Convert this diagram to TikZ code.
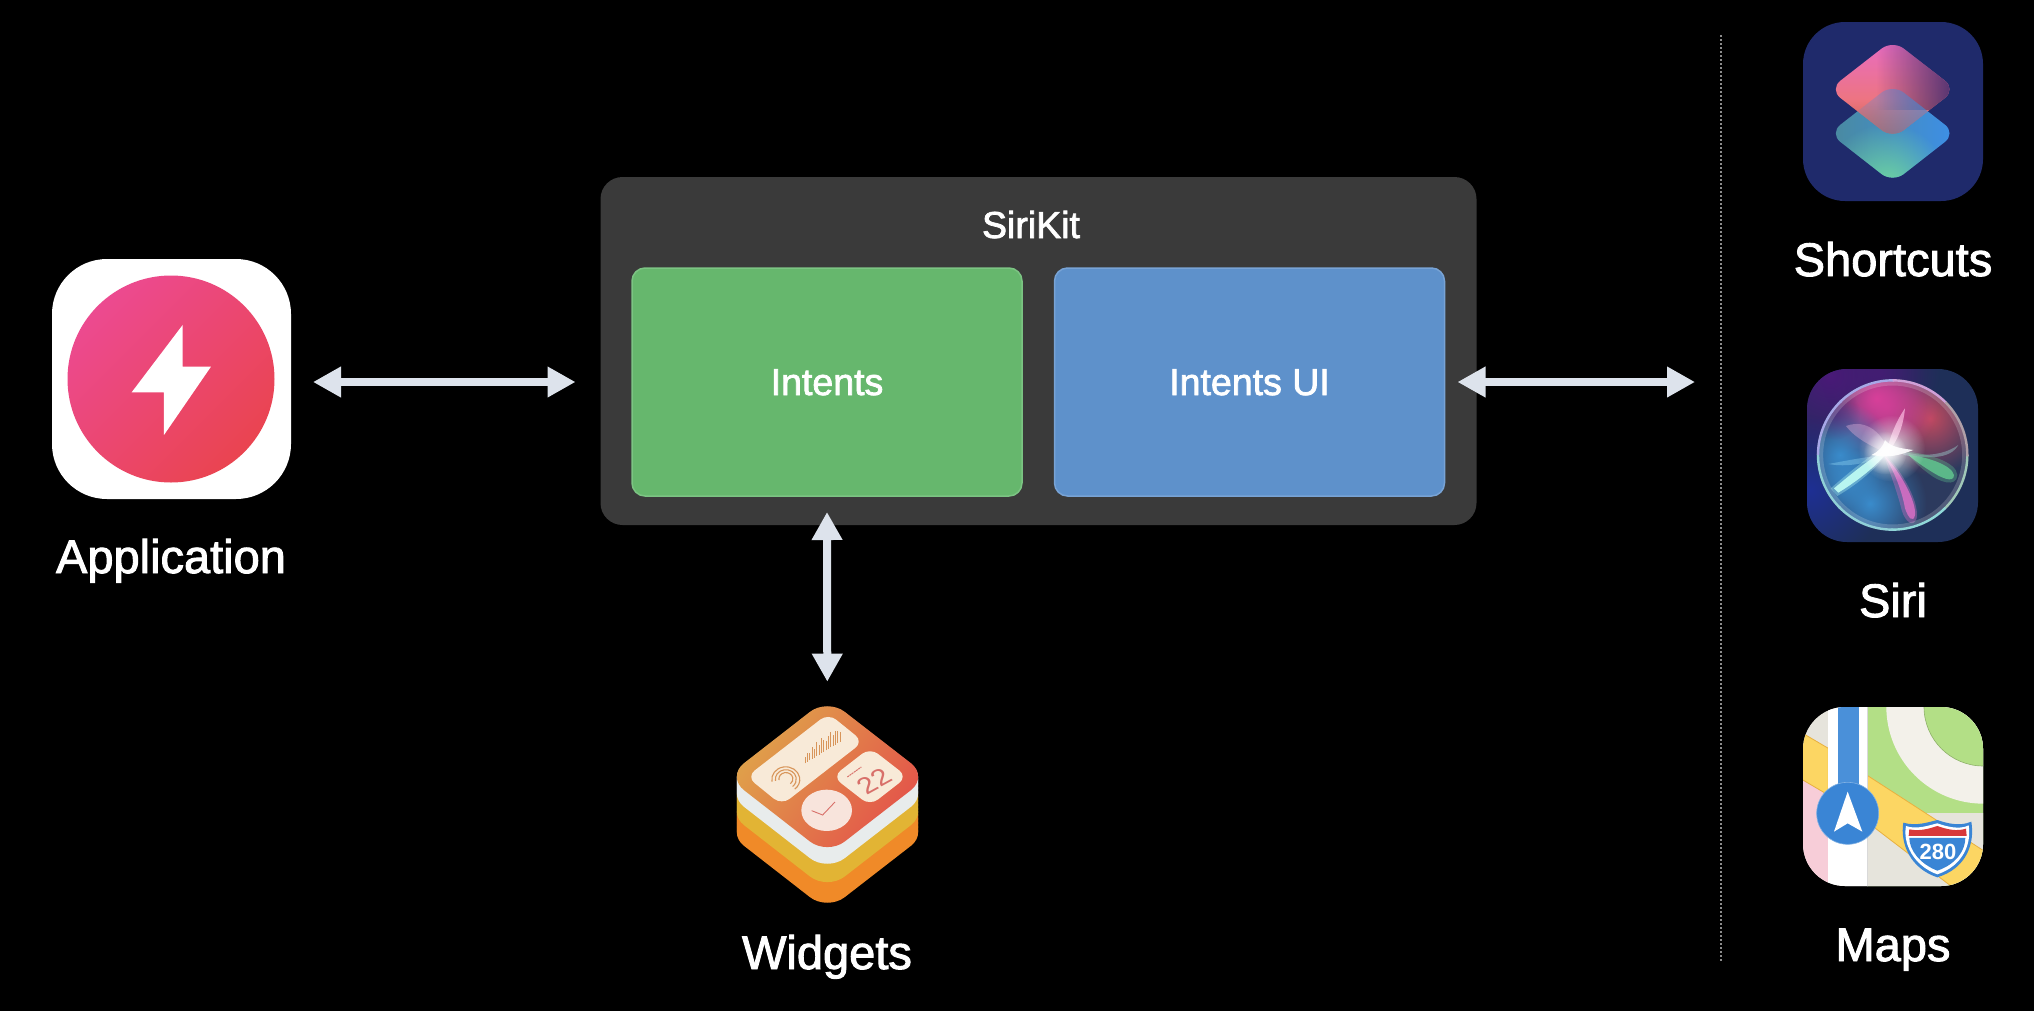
\documentclass[tikz,border=0pt]{standalone}
\usepackage{fontspec}
\setmainfont{Liberation Sans}[FakeBold=2]
\newfontfamily\plainf{Liberation Sans}
\usetikzlibrary{arrows.meta,fadings,shadings}
\tikzfading[name=glow,inner color=transparent!0,outer color=transparent!100]
\definecolor{arrowc}{HTML}{DDE3EC}
\definecolor{panel}{HTML}{3A3A3A}
\definecolor{greenb}{HTML}{66B76D}
\definecolor{blueb}{HTML}{5E91CB}
\definecolor{greenl}{HTML}{7CC483}
\definecolor{bluel}{HTML}{78A3D5}
\definecolor{apppink}{HTML}{EC4A90}
\definecolor{appred}{HTML}{EA4450}
\definecolor{scnavy}{HTML}{1F2A6B}
\definecolor{sca}{HTML}{E86CC4}
\definecolor{scc}{HTML}{F07A55}
\definecolor{scd}{HTML}{4A2F70}
\definecolor{sce}{HTML}{3D8FE0}
\definecolor{sct}{HTML}{4A8A9E}
\definecolor{scb}{HTML}{3D8FE8}
\definecolor{scg}{HTML}{70D8A0}
\definecolor{siribg}{HTML}{1E2F58}
\definecolor{siripurple}{HTML}{4A1A78}
\definecolor{siriblue}{HTML}{1E2F9A}
\definecolor{siridark}{HTML}{2C3A5E}
\definecolor{sirimag}{HTML}{D8409A}
\definecolor{sirired}{HTML}{C04A60}
\definecolor{sirilblue}{HTML}{3A8CCC}
\definecolor{siripink}{HTML}{E070C8}
\definecolor{sirigreen}{HTML}{5FC08C}
\definecolor{siricyan}{HTML}{B8F5F0}
\definecolor{ringa}{HTML}{A0C8B8}
\definecolor{ringb}{HTML}{90D8D8}
\definecolor{ringc}{HTML}{90D0D8}
\definecolor{ringd}{HTML}{A8A8E8}
\definecolor{ringe}{HTML}{D0A0D8}
\definecolor{ringf}{HTML}{B0A0A8}
\definecolor{mapgrey}{HTML}{E6E4DC}
\definecolor{mapgreen}{HTML}{B3DF86}
\definecolor{mapwhite}{HTML}{F3F1EA}
\definecolor{mapyellow}{HTML}{FCD663}
\definecolor{mapedge}{HTML}{E8B040}
\definecolor{mappink}{HTML}{F7CDD8}
\definecolor{mapblue}{HTML}{4A90D9}
\definecolor{mapdot}{HTML}{3A85D5}
\definecolor{mapred}{HTML}{D8383A}
\definecolor{worange}{HTML}{F08A28}
\definecolor{wgold}{HTML}{E2B434}
\definecolor{wwhite}{HTML}{E8ECEC}
\definecolor{wtop}{HTML}{DFA64A}
\definecolor{wbot}{HTML}{E4504A}
\definecolor{wcream}{HTML}{F8EAD8}
\definecolor{wclock}{HTML}{F8E4DC}
\definecolor{wink}{HTML}{D8706A}
\definecolor{wbar}{HTML}{D8955A}
\tikzset{
  dbl/.style={line width=8pt,draw=arrowc,{Triangle[length=28pt,width=29pt]}-{Triangle[length=28pt,width=29pt]}},
  icon/.style={inner sep=0pt,outer sep=0pt,rectangle},
  lab/.style={text=white,anchor=base,inner sep=0pt,font=\fontsize{47}{47}\selectfont},
  inlab/.style={text=white,anchor=base,inner sep=0pt,font=\fontsize{37.5}{38}\selectfont},
  tile/.style={inner sep=0pt,outer sep=0pt,rectangle,rounded corners=13pt,line width=1.5pt,minimum width=390pt,minimum height=228pt},
}
\newcommand{\wdia}[2]{\fill[#2] (382,55+#1) -- (685,290+#1) -- (382,525+#1) -- (80,290+#1) -- cycle;}
\newcommand{\sglow}[4]{\fill[#1,path fading=glow,fill opacity=#4] (#2) circle[radius=#3];}
\begin{document}
\begin{tikzpicture}[x=1pt,y=-1pt]
\useasboundingbox (0,0) rectangle (2034,1010);
\fill[black] (-10,-10) rectangle (2044,1020);

% divider
\coordinate (divtop) at (1721,35);
\coordinate (divbot) at (1721,962);
\draw[line width=2pt,draw=white!55!black,dash pattern=on 2pt off 2pt] (divtop) -- (divbot);

% SiriKit panel
\node[icon,fill=panel,rounded corners=22pt,minimum width=876pt,minimum height=348pt] (sirikit) at (1038.5,351) {};
\node[inlab] (kitlabel) at (1031,238) {SiriKit};
\node[tile,fill=greenb,draw=greenl] (intents) at (827,382) {};
\node[tile,fill=blueb,draw=bluel] (intentsui) at (1249.5,382) {};
\node[inlab] (intentslabel) at (827,395) {Intents};
\node[inlab] (intentsuilabel) at (1249.5,395) {Intents UI};

% Application icon
\node[icon,fill=white,rounded corners=55pt,minimum width=239pt,minimum height=240pt] (app) at (171.5,379) {};
\shade[left color=apppink,right color=appred,shading angle=45] (171,379) circle[radius=103.5];
\begin{scope}[shift={(30,240)},scale=0.3333]
\fill[white] (458,255) -- (458,380) -- (543,380) -- (402,585) -- (402,457) -- (305,457) -- cycle;
\end{scope}
\node[lab] (applabel) at (171,573) {Application};

% Shortcuts icon
\node[icon,fill=scnavy,rounded corners=42pt,minimum width=180pt,minimum height=179pt] (shortcuts) at (1893,111.5) {};
\begin{scope}[shift={(1700,0)},scale=0.3333,rounded corners=14pt]
\shade[left color=sct,right color=scb] (578,252) -- (768,400) -- (578,548) -- (388,400) -- cycle;
\begin{scope}
\clip (578,252) -- (768,400) -- (578,548) -- (388,400) -- cycle;
\sglow{scg}{560,560}{190}{1}
\end{scope}
\shade[top color=sca,bottom color=scc] (578,120) -- (768,268) -- (578,416) -- (388,268) -- cycle;
\begin{scope}
\clip (578,120) -- (768,268) -- (578,416) -- (388,268) -- cycle;
\begin{scope}[sharp corners]
\fill[scd,path fading=west,fill opacity=.95] (530,110) rectangle (760,330);
\fill[scc!60!sca!60!black,path fading=north,fill opacity=.5] (440,300) rectangle (720,420);
\end{scope}
\fill[sce,fill opacity=.8,path fading=west] (578,252) -- (768,400) -- (578,548) -- (388,400) -- cycle;
\end{scope}
\end{scope}
\node[lab] (shortcutslabel) at (1893,276) {Shortcuts};

% Siri icon
\node[icon,fill=siribg,rounded corners=40pt,minimum width=171pt,minimum height=173pt] (siri) at (1892.5,455.5) {};
\begin{scope}
\clip[rounded corners=40pt] (1807,369) rectangle (1978,542);
\sglow{siripurple}{1830,375}{95}{1}
\sglow{siriblue}{1810,490}{75}{.9}
\sglow{siripurple}{1880,372}{60}{.7}
\end{scope}
\begin{scope}[shift={(1700,340)},scale=0.3333]
\fill[siridark] (578,345) circle[radius=228];
\begin{scope}
\clip (578,345) circle[radius=224];
\sglow{sirired}{690,235}{170}{1}
\sglow{sirimag}{530,175}{190}{1}
\sglow{sirimag}{560,200}{120}{.7}
\sglow{sirilblue}{420,345}{160}{1}
\sglow{sirilblue}{510,490}{170}{1}
\sglow{sirilblue}{440,420}{100}{.8}
\sglow{siripurple}{400,220}{80}{.5}
% blades
\fill[violet!35!white,fill opacity=.45] (438,258) .. controls (500,235) and (550,280) .. (570,345) .. controls (520,320) and (470,300) .. (438,258) -- cycle;
\fill[cyan!40!white,fill opacity=.35] (385,372) .. controls (450,360) and (500,350) .. (560,345) .. controls (500,372) and (440,382) .. (385,372) -- cycle;
\fill[teal!40!white,fill opacity=.45] (610,335) .. controls (680,355) and (740,340) .. (775,315) .. controls (750,360) and (680,355) .. (610,345) -- cycle;
\fill[siripink,fill opacity=.35] (550,340) .. controls (590,370) and (660,480) .. (650,535) .. controls (640,565) and (615,545) .. (605,510) .. controls (590,450) and (570,400) .. (550,340) -- cycle;
\fill[siripink,fill opacity=.8] (555,350) .. controls (590,380) and (650,480) .. (645,525) .. controls (640,550) and (625,535) .. (615,505) .. controls (605,450) and (585,400) .. (555,350) -- cycle;
\fill[sirigreen,fill opacity=.35] (620,335) .. controls (680,340) and (770,365) .. (772,405) .. controls (770,445) and (715,425) .. (685,400) .. controls (665,385) and (640,365) .. (620,335) -- cycle;
\fill[sirigreen,fill opacity=.9] (625,345) .. controls (680,350) and (755,375) .. (762,405) .. controls (762,432) and (720,412) .. (690,392) .. controls (670,380) and (645,362) .. (625,345) -- cycle;
\fill[white!70!magenta,fill opacity=.75] (615,205) .. controls (610,260) and (590,310) .. (560,340) .. controls (565,300) and (590,240) .. (615,205) -- cycle;
\fill[siricyan,fill opacity=.35] (392,445) .. controls (450,395) and (510,345) .. (570,312) .. controls (560,365) and (470,435) .. (412,468) -- cycle;
\fill[siricyan] (402,445) .. controls (450,405) and (510,355) .. (565,325) .. controls (555,360) and (470,425) .. (415,458) -- cycle;
\sglow{white}{575,325}{100}{.8}
\sglow{white}{555,338}{65}{1}
\fill[white,fill opacity=.9] (555,300) .. controls (570,320) and (600,325) .. (640,330) .. controls (600,345) and (570,355) .. (515,345) .. controls (535,335) and (550,320) .. (555,300) -- cycle;
\end{scope}
\draw[white,draw opacity=.18,line width=5pt] (578,345) circle[radius=216];
\foreach \a/\c in {0/ringa,45/ringb,90/ringc,135/ringc,180/ringd,225/ringd,270/ringe,315/ringf}{
  \draw[\c,line width=2.4pt] ({578+224*cos(\a)},{345+224*sin(\a)}) arc[start angle=\a,delta angle=46,radius=224];
}
\end{scope}
\node[lab] (sirilabel) at (1893,617) {Siri};

% Maps icon
\node[icon,fill=mapgrey,rounded corners=42pt,minimum width=180pt,minimum height=179pt] (maps) at (1893,796.5) {};
\begin{scope}
\clip[rounded corners=42pt] (1803,707) rectangle (1983,886);
\begin{scope}[shift={(1700,680)},scale=0.3333]
\fill[mapgreen] (500,70) rectangle (860,640);
\fill[mapwhite] (850,80) circle[radius=291];
\fill[mapgreen] (850,80) circle[radius=178];
\draw[mapgreen!80!black,line width=.6pt] (850,80) circle[radius=178];
\fill[mapgrey] (500,400) rectangle (860,640);
\fill[mapyellow,draw=mapedge,line width=.8pt] (500,285) -- (860,518) -- (860,700) -- (500,425) -- cycle;
\fill[mappink] (300,300) rectangle (385,640);
\fill[mapyellow,draw=mapedge,line width=.8pt] (300,155) -- (385,205) -- (385,345) -- (300,295) -- cycle;
\fill[white] (385,70) rectangle (500,640);
\fill[mapblue] (413,70) rectangle (477,340);
\draw[black!15,line width=1.2pt] (502,70) -- (502,640);
\fill[mapdot,draw=mapblue!70!white,line width=.6pt] (443,400) circle[radius=93];
\fill[white] (443,335) -- (487,455) -- (443,430) -- (402,455) -- cycle;
\fill[mapdot] (610,428) .. controls (650,440) and (690,425) .. (712,420) .. controls (740,430) and (780,440) .. (814,425) .. controls (825,490) and (800,565) .. (712,592) .. controls (630,565) and (600,490) .. (610,428) -- cycle;
\fill[white] (618,438) .. controls (650,450) and (690,435) .. (712,430) .. controls (740,440) and (780,450) .. (806,436) .. controls (815,490) and (790,557) .. (712,583) .. controls (640,557) and (608,490) .. (618,438) -- cycle;
\fill[mapdot] (628,474) -- (796,474) .. controls (796,510) and (770,552) .. (712,572) .. controls (660,552) and (628,510) .. (628,474) -- cycle;
\fill[mapred] (628,448) .. controls (660,455) and (690,445) .. (712,438) .. controls (740,448) and (770,455) .. (798,446) -- (800,468) -- (626,468) -- cycle;
\node[text=white,inner sep=0pt,font=\plainf\bfseries\fontsize{22}{22}\selectfont] (shieldtext) at (714,516) {280};
\end{scope}
\end{scope}
\node[lab] (mapslabel) at (1893,961) {Maps};

% Widgets icon
\begin{scope}[shift={(700,680)},scale=0.3333]
\begin{scope}[rounded corners=22pt]
\foreach \d in {167,163,...,105}{\wdia{\d}{worange}}
\foreach \d in {105,101,...,50}{\wdia{\d}{wgold}}
\foreach \d in {50,46,...,0}{\wdia{\d}{wwhite}}
\shade[left color=wtop,right color=wbot,shading angle=55] (382,55) -- (685,290) -- (382,525) -- (80,290) -- cycle;
\end{scope}
\node[icon,minimum width=181pt,minimum height=144pt] (widgets) at (382,290) {};
\fill[wcream,rounded corners=10pt] (140,290) -- (385,100) -- (490,185) -- (245,375) -- cycle;
\fill[wcream,rounded corners=10pt] (398,290) -- (510,203) -- (622,290) -- (510,377) -- cycle;
\fill[wclock] (380,391) ellipse[x radius=76,y radius=62];
\draw[wink,line width=.9pt] (335,392) -- (368,405) -- (405,366);
\foreach \x/\h in {315/20,322/28,329/22,336/36,343/26,350/42,357/30,364/46,371/34,378/28,385/40,392/46,399/34,406/42,413/36,420/30}{
  \draw[wbar,line width=.9pt] (\x,{250-(\x-315)*.62}) -- (\x,{250-(\x-315)*.62-\h});
}
\foreach \r in {1,.75,.5}{
  \draw[wbar,line width=1.1pt] (258,295) ++({-42*\r},{10*\r}) arc[start angle=170,end angle=410,x radius=42*\r,y radius=38*\r];
}
\draw[wink,line width=1pt,dash pattern=on 2pt off .7pt] (442,291) -- (484,261);
\begin{scope}[shift={(522,303)},cm={1,.55,-.75,.75,(0,0)}]
\node[transform shape,text=wink,inner sep=0pt,font=\plainf\fontsize{74}{74}\selectfont] (date) at (0,0) {22};
\end{scope}
\end{scope}
\node[lab] (widgetslabel) at (827,969) {Widgets};

% connectors
\coordinate (rightend) at (1721,382);
\draw[dbl,shorten <=22pt,shorten >=25pt] (app.east |- intents) -- (sirikit.west |- intents);
\draw[dbl,shorten <=-19pt,shorten >=26pt] (sirikit.east |- rightend) -- (rightend);
\draw[dbl,shorten <=16pt,shorten >=23pt] (intents.south) -- (widgets.north);
\end{tikzpicture}
\end{document}
